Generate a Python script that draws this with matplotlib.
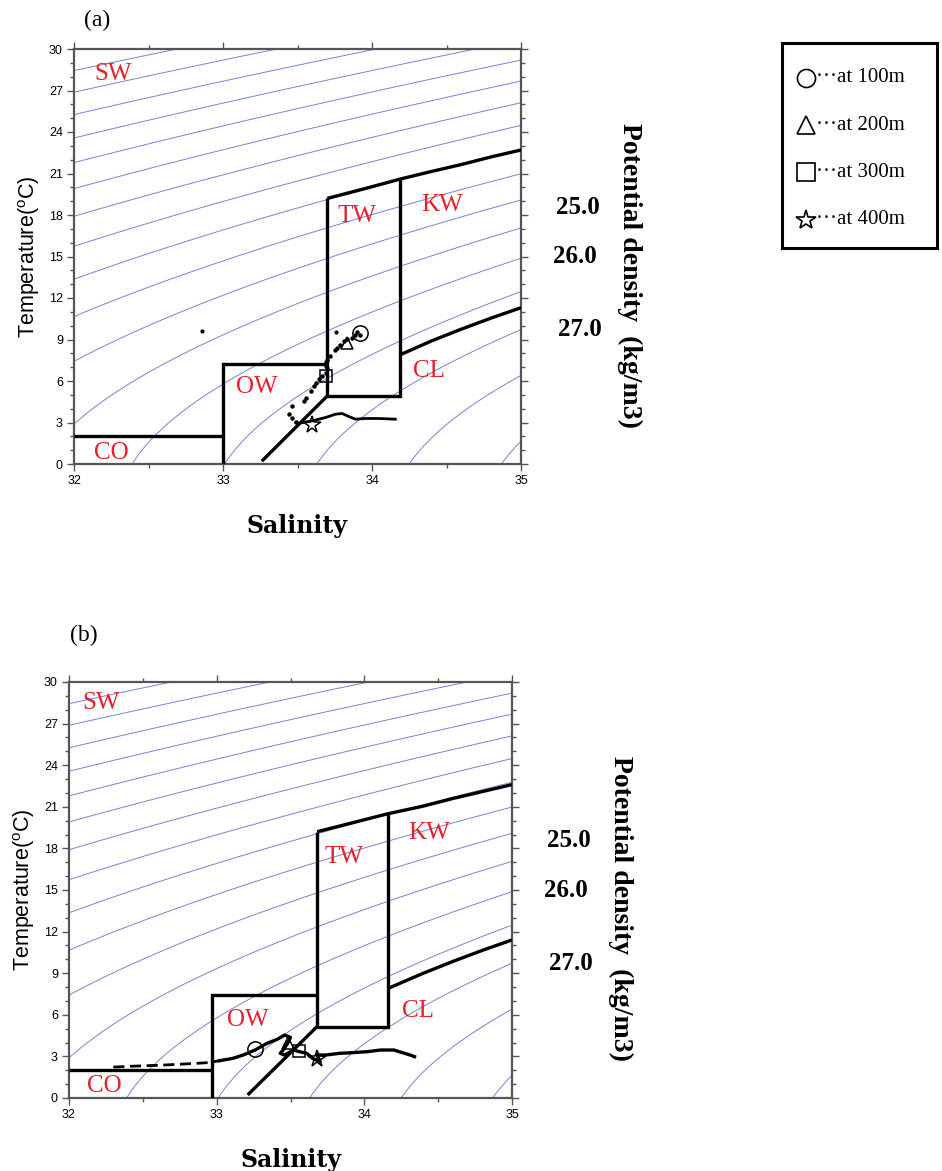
import numpy as np
import matplotlib

matplotlib.use("Agg")
import matplotlib.pyplot as plt
from matplotlib.ticker import MultipleLocator

# ---- data ----
SIGMA_LEVELS = np.arange(18.0, 28.5, 0.5)  # isopycnals drawn every 0.5 kg/m3

REGION_NAMES = ["SW", "TW", "KW", "OW", "CL", "CO"]
A_REGION_S = [32.26, 33.90, 34.47, 33.23, 34.38, 32.25]
A_REGION_T = [28.2, 17.9, 18.7, 5.6, 6.7, 0.8]
B_REGION_S = [32.22, 33.86, 34.44, 33.21, 34.36, 32.24]
B_REGION_T = [28.5, 17.4, 19.1, 5.6, 6.3, 0.9]

# water-mass boundaries, (salinity list, temperature list)
A_BOUNDS = [
    ([32.0, 33.0], [2.0, 2.0]),
    ([33.0, 33.0, 33.70], [0.0, 7.2, 7.2]),
    ([33.70, 33.70], [4.92, 19.2]),
    ([33.70, 34.19, 34.19], [4.92, 4.92, 20.65]),
    ([33.70, 33.95, 34.19, 34.40, 34.60, 34.80, 35.0],
     [19.2, 19.9, 20.6, 21.15, 21.65, 22.2, 22.7]),
    ([34.19, 34.40, 34.60, 34.80, 35.0], [7.9, 8.9, 9.75, 10.55, 11.3]),
    ([33.26, 33.70], [0.2, 4.92]),
]
B_BOUNDS = [
    ([32.0, 32.97], [2.0, 2.0]),
    ([32.97, 32.97, 33.68], [0.0, 7.4, 7.4]),
    ([33.68, 33.68], [5.15, 19.2]),
    ([33.68, 34.16, 34.16], [5.15, 5.15, 20.55]),
    ([33.68, 33.92, 34.16, 34.40, 34.60, 34.80, 35.0],
     [19.2, 19.85, 20.5, 21.05, 21.6, 22.1, 22.6]),
    ([34.16, 34.40, 34.60, 34.80, 35.0], [7.9, 9.0, 9.85, 10.65, 11.4]),
    ([33.21, 33.68], [0.22, 5.15]),
]

# panel (a) profile
A_DOT_S = [33.889, 33.866, 33.833, 33.81, 33.788, 33.766, 33.755, 33.721, 33.699,
           33.688, 33.688, 33.699, 33.688, 33.666, 33.643, 33.621, 33.61, 33.588,
           33.554, 33.543, 33.465, 33.443, 33.465, 33.488, 33.90, 33.92]
A_DOT_T = [9.35, 9.11, 9.04, 8.87, 8.63, 8.39, 8.22, 7.84, 7.55,
           7.36, 7.12, 6.95, 6.6, 6.35, 6.12, 5.88, 5.63, 5.27,
           4.8, 4.56, 4.2, 3.6, 3.36, 3.04, 9.55, 9.3]
A_TRAIL_S = [33.49, 33.51, 33.60, 33.688, 33.755, 33.80, 33.844, 33.889, 33.955, 34.044, 34.156]
A_TRAIL_T = [3.0, 2.95, 3.12, 3.36, 3.6, 3.65, 3.43, 3.24, 3.29, 3.29, 3.24]
A_ISO_S = [32.86, 33.76]
A_ISO_T = [9.6, 9.55]

# panel (b) profile
B_DASH_S = [32.30, 32.45, 32.63, 32.85, 32.94, 33.02]
B_DASH_T = [2.23, 2.30, 2.37, 2.49, 2.55, 2.69]
B_LINE_S = [33.02, 33.11, 33.18, 33.26, 33.34, 33.41, 33.46, 33.50, 33.48, 33.45,
            33.43, 33.46, 33.52, 33.56, 33.61, 33.65, 33.70, 33.68, 33.74, 33.83,
            33.92, 34.02, 34.11, 34.20, 34.31, 34.34]
B_LINE_T = [2.69, 2.86, 3.10, 3.46, 3.94, 4.23, 4.54, 4.37, 3.94, 3.46,
            3.22, 3.10, 3.46, 3.34, 3.22, 2.86, 2.62, 3.10, 3.10, 3.22,
            3.27, 3.34, 3.46, 3.46, 3.10, 2.98]

DEPTH_LABELS = ["at 100m", "at 200m", "at 300m", "at 400m"]
DEPTH_MARKERS = ["o", "^", "s", "*"]
A_MARK_S = [33.92, 33.83, 33.69, 33.60]
A_MARK_T = [9.47, 8.75, 6.36, 2.82]
B_MARK_S = [33.26, 33.48, 33.56, 33.68]
B_MARK_T = [3.50, 3.95, 3.40, 2.80]

DENS_LABELS = ["25.0", "26.0", "27.0"]
DENS_LABEL_X = [1.128, 1.121, 1.132]
DENS_LABEL_Y = [0.619, 0.499, 0.323]

W, H = 942, 1171
RED = "#e8202a"
ISO_BLUE = "#7485d4"
SERIF = ["Liberation Serif", "DejaVu Serif"]
SANS = ["Liberation Sans", "DejaVu Sans"]


def sigma_theta(s, t):
    # UNESCO EOS-80 at p = 0
    rw = (999.842594 + 6.793952e-2 * t - 9.095290e-3 * t**2 + 1.001685e-4 * t**3
          - 1.120083e-6 * t**4 + 6.536332e-9 * t**5)
    a = 8.24493e-1 - 4.0899e-3 * t + 7.6438e-5 * t**2 - 8.2467e-7 * t**3 + 5.3875e-9 * t**4
    b = -5.72466e-3 + 1.0227e-4 * t - 1.6546e-6 * t**2
    c = 4.8314e-4
    return rw + a * s + b * s**1.5 + c * s**2 - 1000.0


def px_rect(left, top, right, bottom):
    return [left / W, 1 - bottom / H, (right - left) / W, (bottom - top) / H]


def draw_panel(ax, bounds, region_s, region_t, mark_s, mark_t):
    ss, tt = np.meshgrid(np.linspace(32, 35, 300), np.linspace(0, 30, 300))
    ax.contour(ss, tt, sigma_theta(ss, tt), levels=SIGMA_LEVELS,
               colors=ISO_BLUE, linewidths=0.7, zorder=1)
    for bs, bt in bounds:
        ax.plot(bs, bt, color="black", lw=2.4, solid_capstyle="butt",
                solid_joinstyle="miter", zorder=3)
    for name, s, t in zip(REGION_NAMES, region_s, region_t):
        ax.text(s, t, name, color=RED, fontsize=18, family=SERIF,
                ha="center", va="center", zorder=5)
    for m, s, t in zip(DEPTH_MARKERS, mark_s, mark_t):
        size = 13 if m == "*" else (11 if m == "o" else 9)
        ax.plot(s, t, marker=m, ms=size, mfc="none", mec="black", mew=1.1,
                ls="none", zorder=6)

    ax.set_xlim(32, 35)
    ax.set_ylim(0, 30)
    ax.xaxis.set_major_locator(MultipleLocator(1))
    ax.xaxis.set_minor_locator(MultipleLocator(0.5))
    ax.yaxis.set_major_locator(MultipleLocator(3))
    ax.yaxis.set_minor_locator(MultipleLocator(1))
    ax.tick_params(which="both", direction="out", top=True, right=True,
                   color="#555555", width=1.0)
    ax.tick_params(which="major", length=5, labelsize=9, pad=3)
    ax.tick_params(which="minor", length=3)
    for lab in ax.get_xticklabels() + ax.get_yticklabels():
        lab.set_family(SANS)
    for sp in ax.spines.values():
        sp.set_color("#555555")
        sp.set_linewidth(1.6)
    ax.set_xlabel("Salinity", family="DejaVu Serif", fontweight="bold",
                  fontsize=17, labelpad=19)
    ax.set_ylabel(r"Temperature($\mathregular{^{o}}$C)", family=SANS,
                  fontsize=15.5, labelpad=5)

    for txt, x, y in zip(DENS_LABELS, DENS_LABEL_X, DENS_LABEL_Y):
        ax.text(x, y, txt, transform=ax.transAxes, family=SERIF,
                fontweight="bold", fontsize=18, ha="center", va="center")
    ax.text(1.244, 0.455, "Potential density  (kg/m3)", transform=ax.transAxes,
            family=SERIF, fontweight="bold", fontsize=20, rotation=-90,
            ha="center", va="center")


fig = plt.figure(figsize=(W / 100, H / 100), dpi=100)

ax_a = fig.add_axes(px_rect(74, 49, 521, 464))
draw_panel(ax_a, A_BOUNDS, A_REGION_S, A_REGION_T, A_MARK_S, A_MARK_T)
ax_a.plot(A_DOT_S, A_DOT_T, ls="none", marker="o", ms=2.2, color="black", zorder=4)
ax_a.plot(A_TRAIL_S, A_TRAIL_T, color="black", lw=2.0, zorder=4)
ax_a.plot(A_ISO_S, A_ISO_T, ls="none", marker="o", ms=2.0, color="black", zorder=4)

ax_b = fig.add_axes(px_rect(69, 682, 512, 1098))
draw_panel(ax_b, B_BOUNDS, B_REGION_S, B_REGION_T, B_MARK_S, B_MARK_T)
ax_b.plot(B_DASH_S, B_DASH_T, color="black", lw=2.0, ls=(0, (4, 2)), zorder=4)
ax_b.plot(B_LINE_S, B_LINE_T, color="black", lw=2.4, zorder=4)

fig.text(97 / W, 1 - 20 / H, "(a)", family=SERIF, fontsize=17,
         ha="center", va="center")
fig.text(84 / W, 1 - 635 / H, "(b)", family=SERIF, fontsize=17,
         ha="center", va="center")

# legend box
ax_l = fig.add_axes(px_rect(782, 43, 937, 248))
ax_l.set_xlim(0, 1)
ax_l.set_ylim(0, 1)
ax_l.set_xticks([])
ax_l.set_yticks([])
for sp in ax_l.spines.values():
    sp.set_linewidth(2.2)
    sp.set_color("black")
rows_y = [0.83, 0.60, 0.37, 0.137]
for m, label, y in zip(DEPTH_MARKERS, DEPTH_LABELS, rows_y):
    size = 15 if m == "*" else 13
    ax_l.plot(0.153, y, marker=m, ms=size, mfc="none", mec="black", mew=1.2, ls="none")
    ax_l.text(0.22, y, "\u00b7\u00b7\u00b7" + label, family=SERIF, fontsize=15,
              ha="left", va="center")

fig.savefig("out.png", dpi=100)
